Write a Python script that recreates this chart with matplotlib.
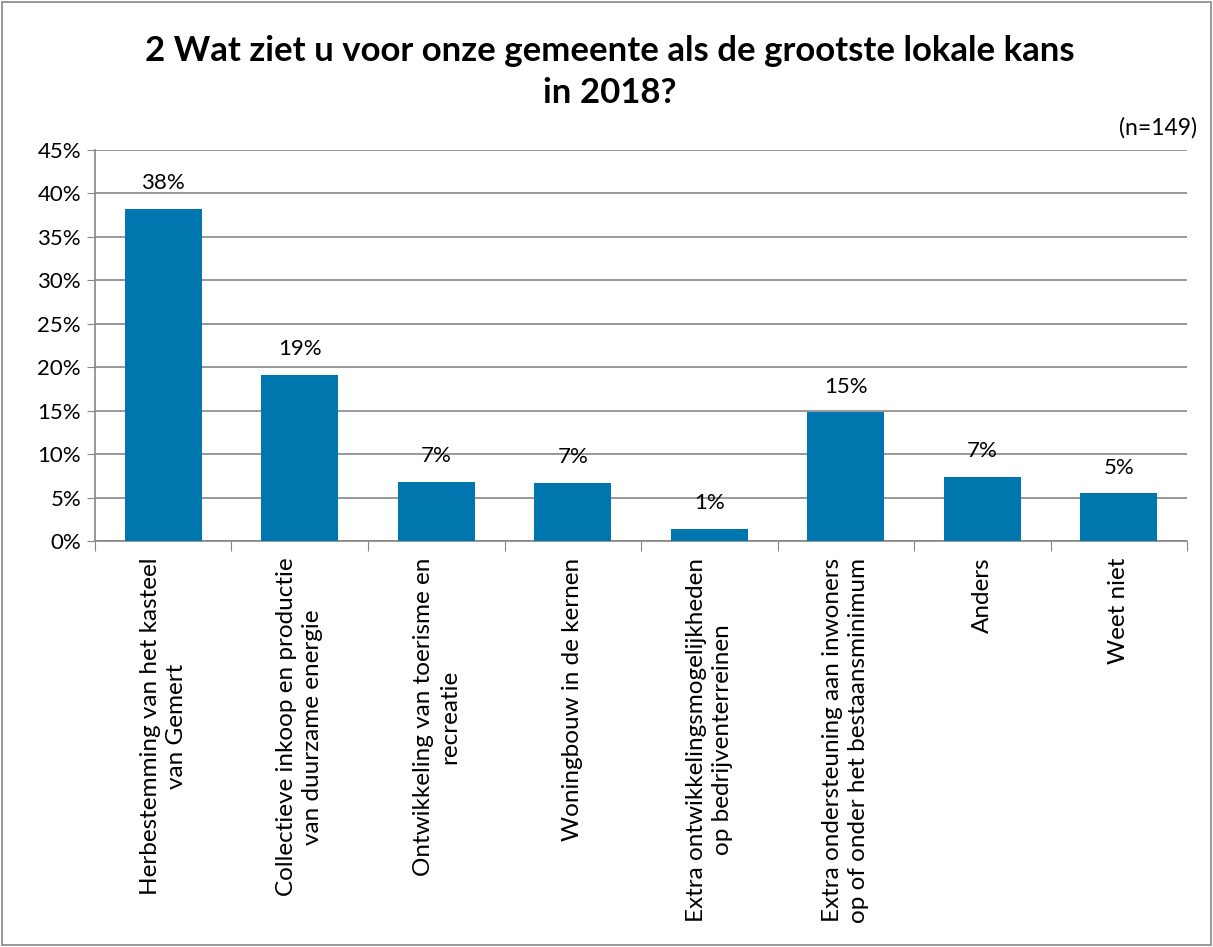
import matplotlib
matplotlib.use("Agg")
import matplotlib.pyplot as plt
from matplotlib.patches import Rectangle
from matplotlib.ticker import FuncFormatter, MultipleLocator

categories = [
    "Herbestemming van het kasteel\nvan Gemert",
    "Collectieve inkoop en productie\nvan duurzame energie",
    "Ontwikkeling van toerisme en\nrecreatie",
    "Woningbouw in de kernen",
    "Extra ontwikkelingsmogelijkheden\nop bedrijventerreinen",
    "Extra ondersteuning aan inwoners\nop of onder het bestaansminimum",
    "Anders",
    "Weet niet",
]
values = [38.2, 19.1, 6.8, 6.7, 1.4, 14.8, 7.4, 5.5]
labels = ["38%", "19%", "7%", "7%", "1%", "15%", "7%", "5%"]

plt.rcParams['font.family'] = ['Lato', 'DejaVu Sans']

fig = plt.figure(figsize=(12.13, 9.47), dpi=100)
fig.patches.append(Rectangle((0.002, 0.002), 0.996, 0.996, transform=fig.transFigure,
                             fill=False, edgecolor='#868686', linewidth=1.2))
ax = fig.add_axes([0.0783, 0.4287, 0.9003, 0.4129])

x = list(range(len(categories)))
ax.bar(x, values, width=0.565, color='#0076AE', zorder=3)
for xi, v, l in zip(x, values, labels):
    ax.text(xi, v + 1.8, l, ha='center', va='bottom', fontsize=16)

ax.set_xlim(-0.5, len(categories) - 0.5)
ax.set_ylim(0, 45)
ax.yaxis.set_major_locator(MultipleLocator(5))
ax.yaxis.set_major_formatter(FuncFormatter(lambda v, p: f"{int(round(v))}%"))
ax.grid(axis='y', color='#868686', linewidth=1.2, zorder=0)
for s in ['top', 'right']:
    ax.spines[s].set_visible(False)
for s in ['left', 'bottom']:
    ax.spines[s].set_color('#868686')
    ax.spines[s].set_linewidth(1.2)
ax.tick_params(axis='y', length=6, color='#868686', labelsize=16, pad=4)

ax.set_xticks([i - 0.5 for i in range(len(categories) + 1)], minor=False)
ax.set_xticklabels([])
ax.tick_params(axis='x', which='major', length=7, color='#868686')
ax.set_xticks(x, minor=True)
ax.set_xticklabels(categories, minor=True, rotation=90, ha='center', va='top',
                   multialignment='center', fontsize=17.5, linespacing=1.3)
ax.tick_params(axis='x', which='minor', length=0, pad=12)

fig.text(0.503, 0.924, "2 Wat ziet u voor onze gemeente als de grootste lokale kans\nin 2018?",
         ha='center', va='center', fontsize=25, fontweight='bold', linespacing=1.4)
fig.text(0.987, 0.865, "(n=149)", ha='right', va='center', fontsize=16.5)

fig.savefig("out.png", dpi=100)
